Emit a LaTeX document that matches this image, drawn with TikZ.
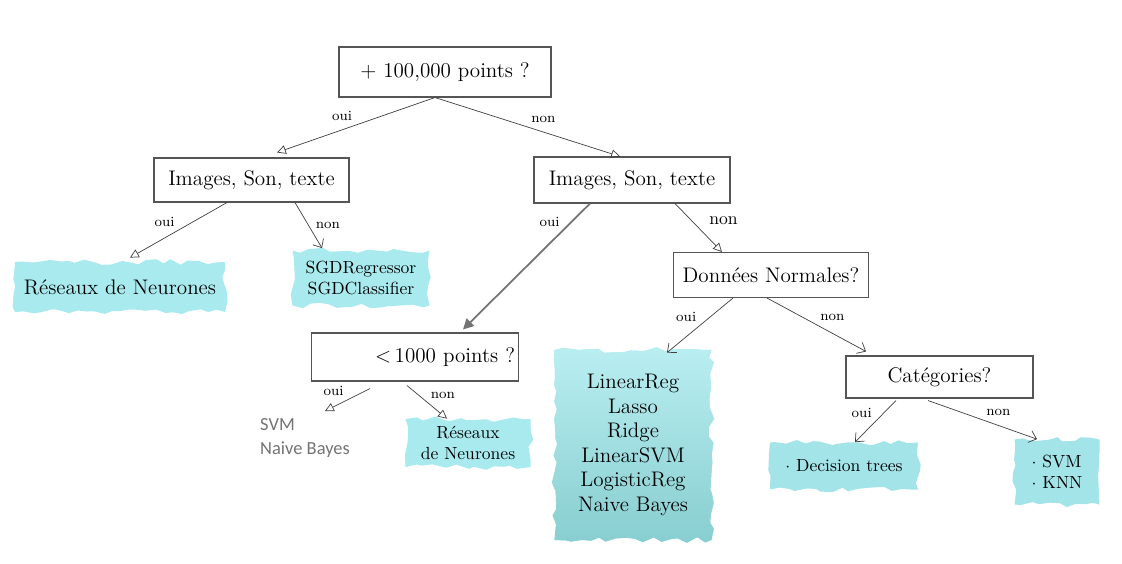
\documentclass[tikz,border=0pt]{standalone}
\usepackage{fontspec}
\usepackage{tikz}
\usetikzlibrary{arrows.meta,decorations.pathmorphing}
\newfontfamily\calib{Carlito}
\definecolor{blobcyan}{RGB}{168,234,238}
\definecolor{blobteal}{RGB}{136,206,208}
\definecolor{boxgray}{RGB}{85,85,85}

\begin{document}
\begin{tikzpicture}[
	question/.style = {draw=boxgray, line width=0.6pt, minimum height=0.9cm, font=\large, inner sep=2pt},
	blob/.style = {fill=blobcyan, decorate, decoration={random steps, segment length=5pt, amplitude=1.6pt}, align=center, font=\large, inner sep=2pt},
	arr/.style = {draw=black!75, line width=0.4pt, -{Triangle[open,length=5pt,width=5pt]}},
	barb/.style = {draw=black!75, line width=0.4pt, -{Straight Barb[length=4pt,width=7pt]}},
	mainarr/.style = {draw=black!55, line width=1pt, -{Triangle[length=6pt,width=6pt]}},
	lbl/.style = {font=\footnotesize, inner sep=2pt}
	]
	\pgfmathsetseed{7}
	\useasboundingbox (0,0) rectangle (22.44,11.26);
	
	% questions
	\node[question, minimum width=4.24cm, minimum height=1cm] (root) at (8.90,9.82) {+ 100,000 points ?};
	\node[question, minimum width=3.9cm, minimum height=0.88cm] (imgA) at (5.03,7.66) {Images, Son, texte};
	\node[question, minimum width=3.92cm, minimum height=0.92cm] (imgB) at (12.64,7.66) {Images, Son, texte};
	\node[question, minimum width=3.9cm] (normal) at (15.42,5.76) {Données Normales?};
	\node[question, text width=4.0cm, align=right, minimum height=0.96cm] (small) at (8.30,4.12) {$<$\,1000 points ?};
	\node[question, minimum width=3.74cm, minimum height=0.84cm] (categ) at (18.79,3.72) {Catégories?};
	
	% answers
	\node[blob, minimum width=4.2cm, minimum height=1cm] (nnA) at (2.40,5.52) {Réseaux de Neurones};
	\node[blob, minimum width=2.74cm, minimum height=1.1cm, font=\normalsize] (sgd) at (7.22,5.70) {SGDRegressor\\SGDClassifier};
	\node[align=left, text=black!55, font=\calib\fontsize{10.5}{14}\selectfont] (svmnb) at (6.10,2.50) {SVM\\Naive Bayes};
	\node[blob, minimum width=2.5cm, minimum height=0.96cm, font=\normalsize] (nnB) at (9.36,2.40) {Réseaux\\de Neurones};
	\node[blob, top color=blobcyan!80!white, bottom color=blobteal, minimum width=3.14cm, minimum height=3.8cm, font=\large, align=center] (linear) at (12.66,2.36)
		{LinearReg\\Lasso\\Ridge\\LinearSVM\\LogisticReg\\Naive Bayes};
	\node[blob, minimum width=2.96cm, minimum height=0.94cm, font=\normalsize, fill=blobcyan!80!blobteal] (trees) at (16.88,1.94) {$\cdot$ Decision trees};
	\node[blob, minimum width=1.7cm, minimum height=1.3cm, font=\normalsize, align=left, fill=blobcyan!80!blobteal] (knn) at (21.14,1.82) {$\cdot$ SVM\\$\cdot$ KNN};
	
	% branches
	\draw[arr] ([xshift=-0.2cm]root.south) -- node[lbl, above left]{oui} ([xshift=0.51cm,yshift=0.1cm]imgA.north);
	\draw[arr] ([xshift=-0.2cm]root.south) -- node[lbl, above right]{non} ([xshift=-0.24cm]imgB.north);
	\draw[arr] ([xshift=-0.49cm]imgA.south) -- node[lbl, above left]{oui} ([xshift=0.2cm,yshift=0.08cm]nnA.north);
	\draw[barb] ([xshift=0.87cm]imgA.south) -- node[lbl, right=2pt]{non} ([xshift=-0.78cm,yshift=0.04cm]sgd.north);
	\draw[mainarr] ([xshift=-0.84cm]imgB.south) -- node[lbl, pos=0.15, left=4pt]{oui} ([xshift=0.96cm,yshift=0.06cm]small.north);
	\draw[arr] ([xshift=0.86cm]imgB.south) -- node[lbl, pos=0.35, right=8pt, font=\normalsize]{non} ([xshift=-0.98cm]normal.north);
	\draw[barb] ([xshift=-0.76cm]normal.south) -- node[lbl, above left]{oui} ([xshift=0.68cm,yshift=-0.06cm]linear.north);
	\draw[barb] ([xshift=-0.08cm]normal.south) -- node[lbl, above right]{non} ([xshift=-1.47cm,yshift=0.08cm]categ.north);
	\draw[arr] ([xshift=-0.9cm,yshift=-0.14cm]small.south) -- node[lbl, above left]{oui} ([xshift=0.4cm,yshift=0.02cm]svmnb.north);
	\draw[arr] ([xshift=-0.16cm,yshift=-0.08cm]small.south) -- node[lbl, above right]{non} ([xshift=-0.42cm]nnB.north);
	\draw[barb] ([xshift=-0.87cm,yshift=-0.04cm]categ.south) -- node[lbl, above left]{oui} ([xshift=0.22cm]trees.north);
	\draw[barb] ([xshift=-0.23cm,yshift=-0.04cm]categ.south) -- node[lbl, above right]{non} ([xshift=-0.4cm]knn.north);
\end{tikzpicture}
\end{document}
